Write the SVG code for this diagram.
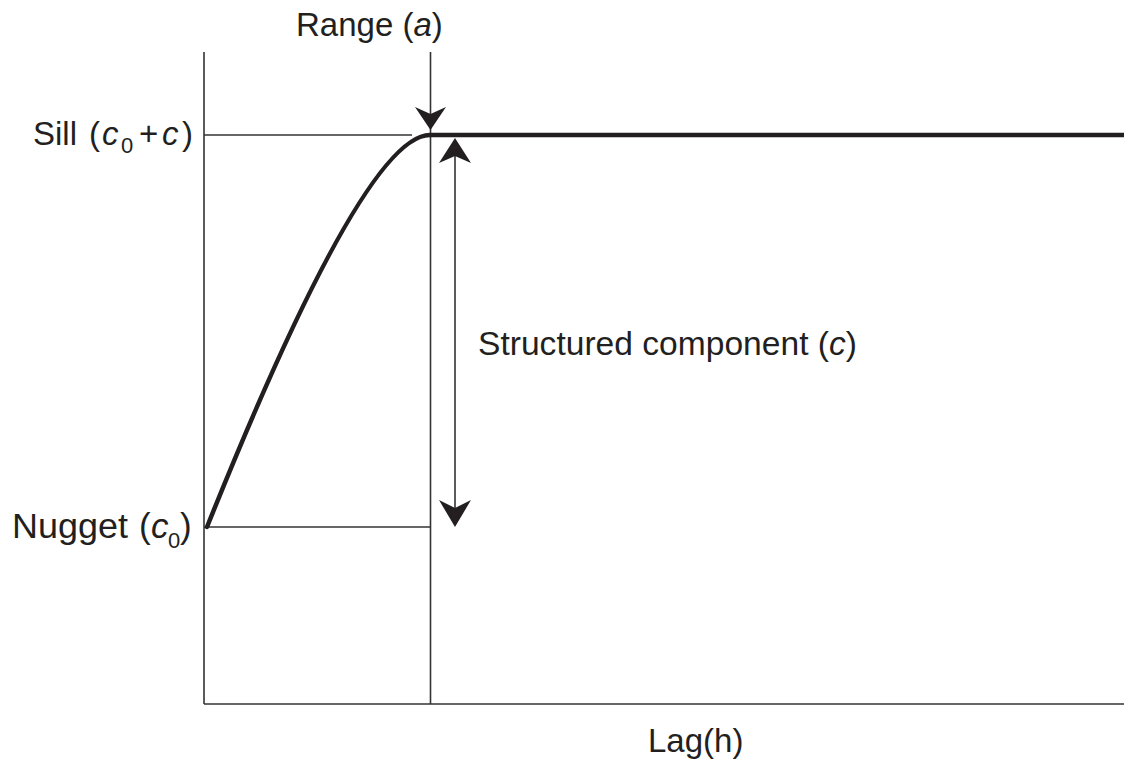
<svg xmlns="http://www.w3.org/2000/svg" width="1124" height="760" viewBox="0 0 1124 760">
<style>
.thin{stroke:#333;stroke-width:1.6;fill:none}
.thick{stroke:#231f20;stroke-width:4.5;fill:none;stroke-linecap:round}
.head{fill:#231f20;stroke:none}
text{font-family:"Liberation Sans",Arial,sans-serif;fill:#231f20;font-size:33px}
.it{font-style:italic}
.sub{font-size:22px}
.big{font-size:35px}
</style>
<rect width="1124" height="760" fill="#fff"/>
<g id="axes">
<line class="thin" x1="204" y1="52" x2="204" y2="704"/>
<line class="thin" x1="204" y1="704" x2="1124" y2="704"/>
</g>
<g id="connectors">
<line class="thin" x1="204" y1="135" x2="412" y2="135"/>
<line class="thin" x1="204" y1="527" x2="430" y2="527"/>
<line class="thin" x1="430.5" y1="52" x2="430.5" y2="704"/>
<line class="thin" x1="455" y1="150" x2="455" y2="512"/>
<path class="head" d="M430.5,130 L415,107 L430.5,114 L446,107 Z"/>
<path class="head" d="M455,138 L439,163 L455,156 L471,163 Z"/>
<path class="head" d="M455,527 L439,500 L455,508 L471,500 Z"/>
</g>
<g id="curve">
<path class="thick" d="M207,527 Q364,135 430,135 L1124,135"/>
</g>
<g id="label-range">
<text x="296" y="36">Range (<tspan class="it">a</tspan>)</text>
</g>
<g id="label-sill">
<text x="33" y="145">Sill</text>
<text x="89" y="145">(</text>
<text class="it" x="102" y="145">c</text>
<text class="sub" x="121" y="153">0</text>
<text x="139" y="145">+</text>
<text class="it" x="162" y="145">c</text>
<text x="182" y="145">)</text>
</g>
<g id="label-nugget">
<text class="big" x="12" y="538" textLength="116" lengthAdjust="spacingAndGlyphs">Nugget</text>
<text class="big" x="139" y="538">(</text>
<text class="it big" x="151" y="538">c</text>
<text class="sub" x="168" y="548">0</text>
<text class="big" x="180" y="538">)</text>
</g>
<g id="label-structured">
<text x="478" y="355" textLength="379" lengthAdjust="spacingAndGlyphs">Structured component (<tspan class="it">c</tspan>)</text>
</g>
<g id="label-lag">
<text x="648" y="752">Lag(h)</text>
</g>
</svg>
